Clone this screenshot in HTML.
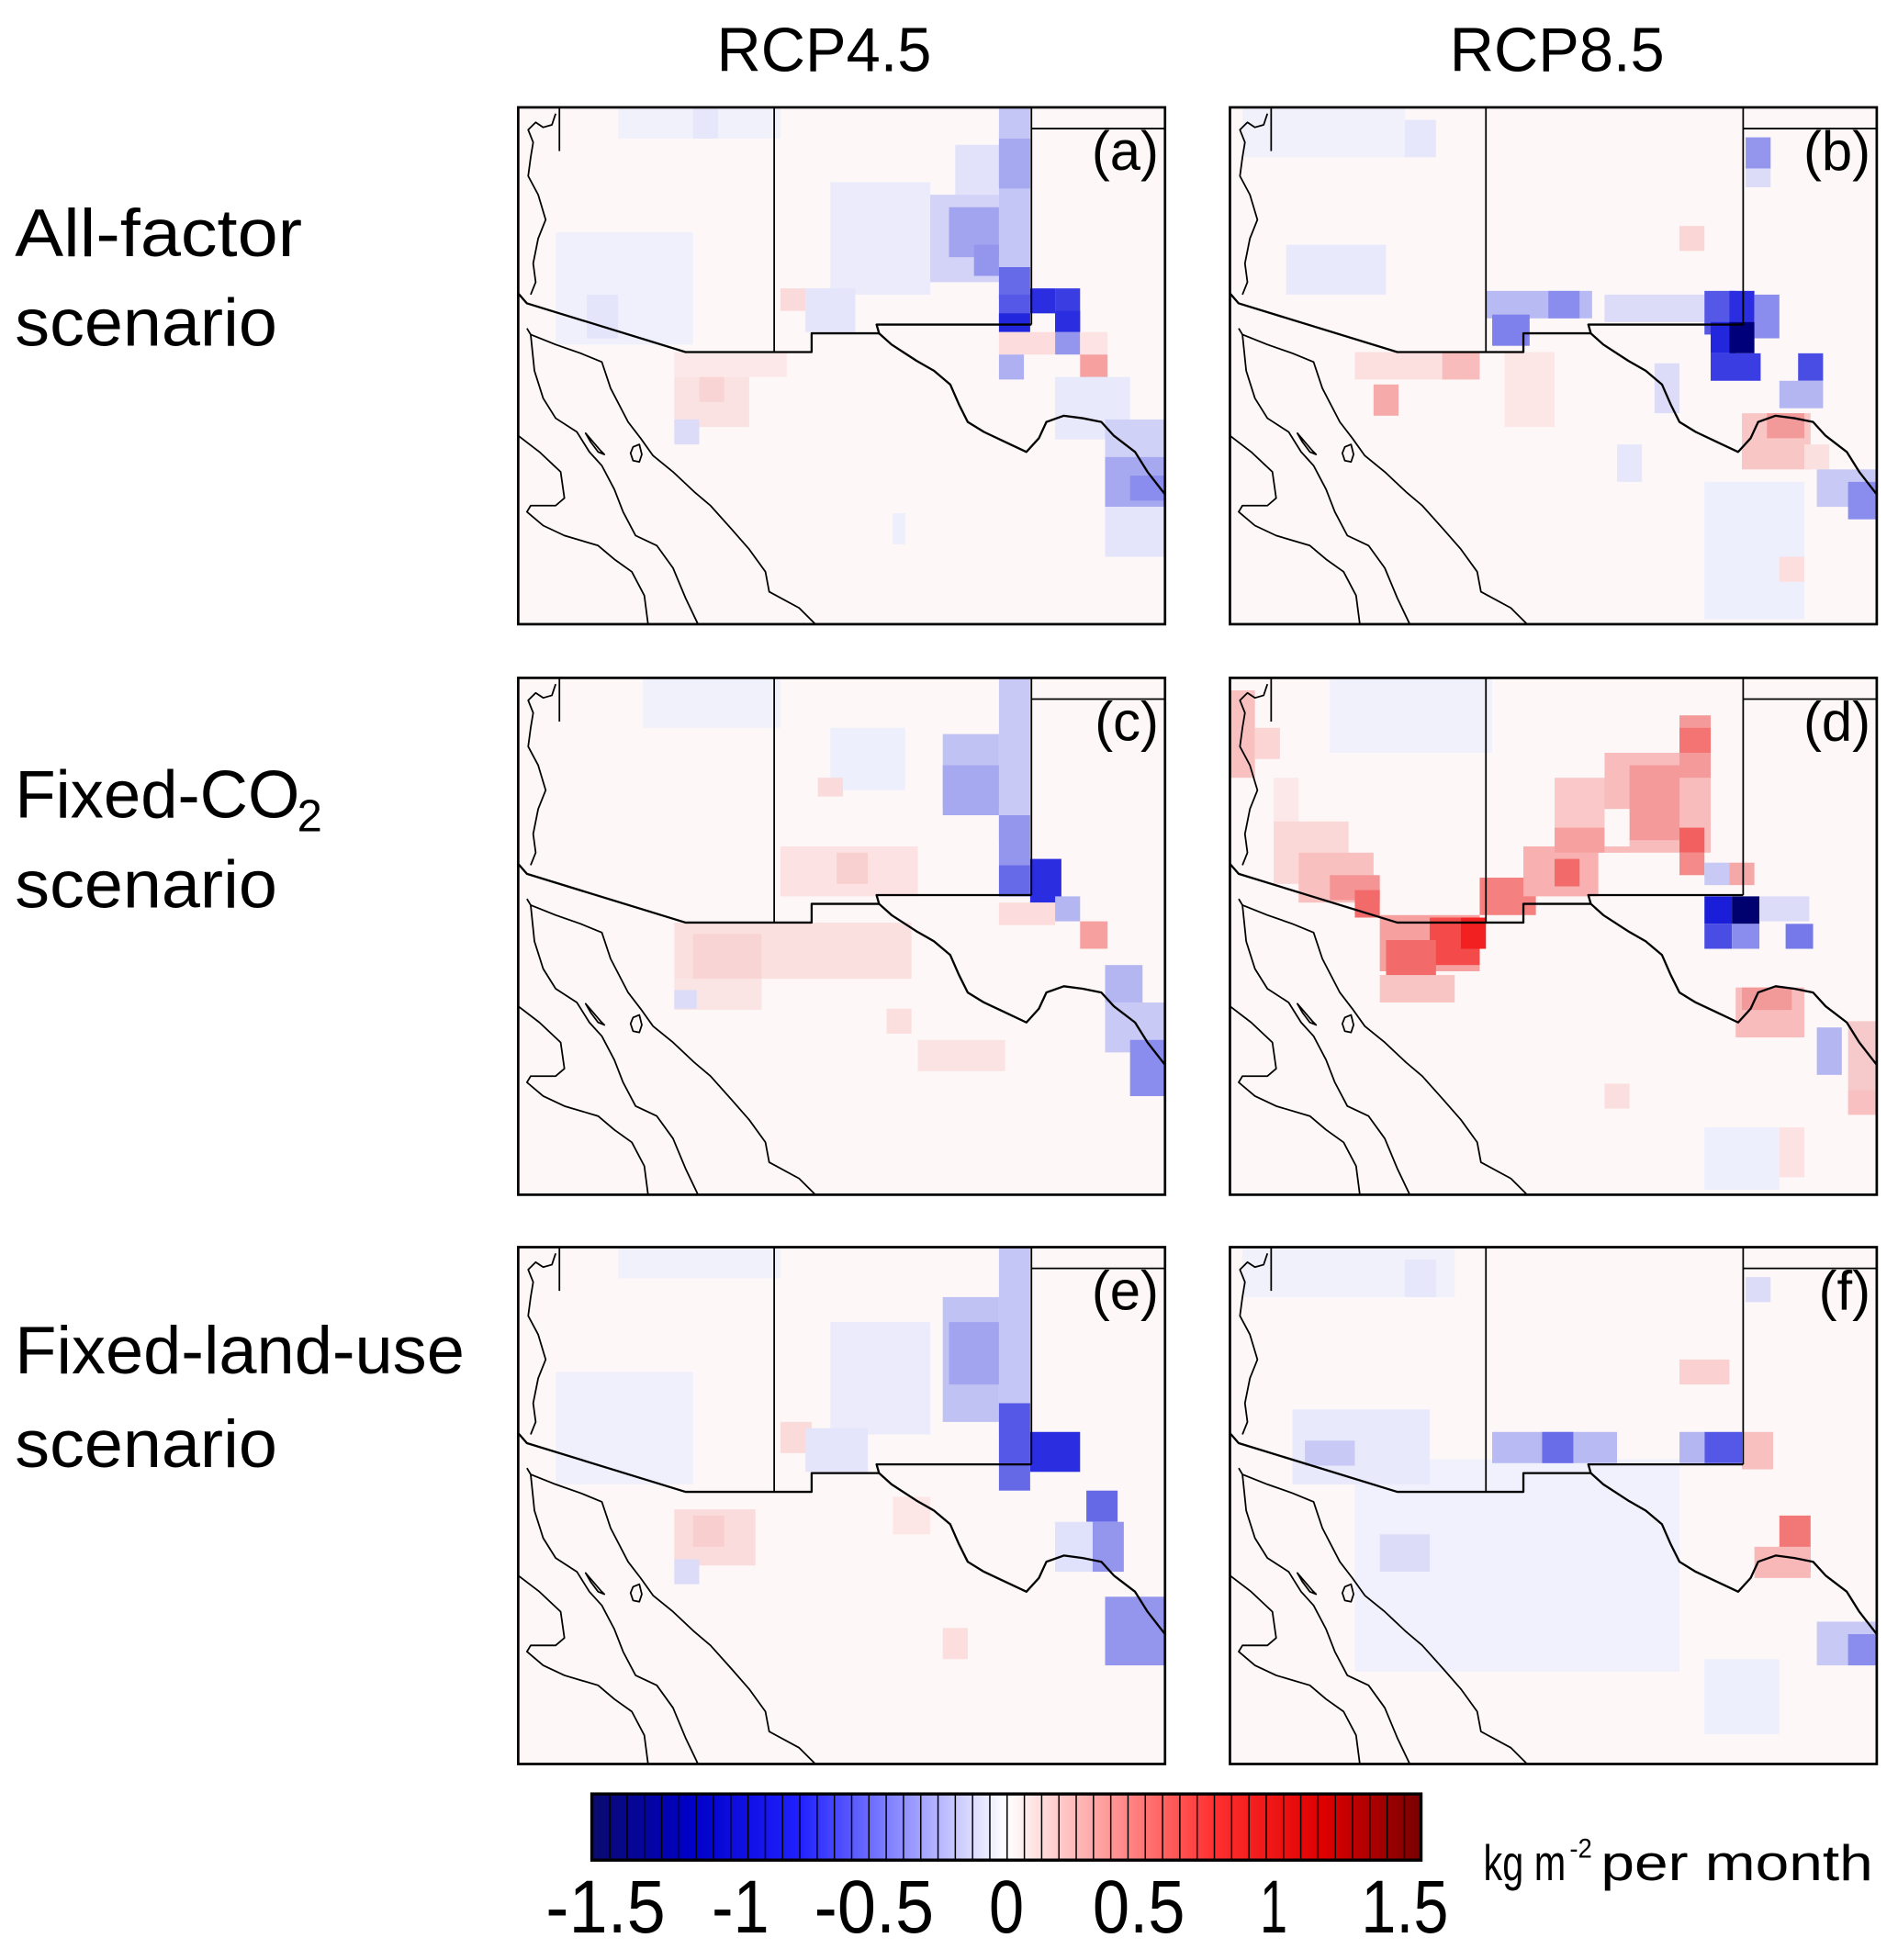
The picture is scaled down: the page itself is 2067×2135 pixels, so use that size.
<!DOCTYPE html>
<html><head><meta charset="utf-8"><style>
html,body{margin:0;padding:0;background:#fff;}
svg{display:block;}
text{font-family:"Liberation Sans","DejaVu Sans",sans-serif;fill:#000;}
</style></head><body>
<svg width="2067" height="2135" viewBox="0 0 1520 1570" preserveAspectRatio="none" xmlns="http://www.w3.org/2000/svg">
<defs>
<g id="map" fill="none" stroke="#000" stroke-width="1.3" stroke-linejoin="round">
  <path d="M33,0 L33,35"/>
  <path d="M205,0 L205,196"/>
  <path d="M411,0 L411,174"/>
  <path d="M411,17 L518,17"/>
  <path d="M0,149 L7,157 L134,196 L235,196 L235,181 L289,181 L287,174 L411,174" stroke-width="1.7"/>
  <path d="M289,181 L299,190 L319,203 L333,211 L346,222 L353,238 L360,252 L373,260 L390,268 L407,276 L417,265 L423,252 L437,247 L452,249 L467,252 L477,263 L494,276 L504,292 L518,310" stroke-width="1.7"/>
  <path d="M30,5 L27,14 L20,16 L14,12 L8,18 L12,28 L10,40 L8,55 L16,70 L22,90 L16,105 L12,125 L14,140 L10,150"/>
  <path d="M7,177 L10,182 L30,190 L50,197 L67,204 L74,225 L88,252 L98,265 L108,279 L124,292 L141,308 L154,319 L171,338 L185,354 L198,372 L201,388 L225,401 L238,414"/>
  <path d="M10,182 L13,211 L20,233 L30,249 L47,260 L57,276 L67,287 L77,306 L84,324 L94,343 L111,351 L124,369 L134,393 L144,414"/>
  <path d="M0,263 L17,276 L34,292 L37,313 L30,319 L10,319 L7,324 L20,335 L37,343 L64,351 L77,362 L91,372 L101,391 L104,414"/>
  <path d="M54,261 L60,268 L66,275 L69,278 L64,276 L58,268 Z"/>
  <path d="M92,272 L97,270 L99,278 L97,284 L92,283 L90,277 Z"/>
</g>
<linearGradient id="cb" x1="0" x2="1" y1="0" y2="0">
  <stop offset="0" stop-color="#0a0a6e"/>
  <stop offset="0.12" stop-color="#0000c8"/>
  <stop offset="0.25" stop-color="#2020ff"/>
  <stop offset="0.5" stop-color="#ffffff"/>
  <stop offset="0.75" stop-color="#ff3030"/>
  <stop offset="0.88" stop-color="#e00000"/>
  <stop offset="1" stop-color="#7a0000"/>
</linearGradient>
<pattern id="stripes" x="474" y="0" width="13.833" height="10" patternUnits="userSpaceOnUse">
  <rect x="0" y="0" width="1.1" height="10" fill="#000"/>
</pattern>
</defs>

<text x="660" y="57" font-size="50" text-anchor="middle" textLength="172" lengthAdjust="spacingAndGlyphs">RCP4.5</text>
<text x="1247" y="57" font-size="50" text-anchor="middle" textLength="172" lengthAdjust="spacingAndGlyphs">RCP8.5</text>

<text x="12" y="205" font-size="54" textLength="230" lengthAdjust="spacingAndGlyphs">All-factor</text>
<text x="12" y="277" font-size="54" textLength="210" lengthAdjust="spacingAndGlyphs">scenario</text>
<text x="12" y="655" font-size="54" textLength="228" lengthAdjust="spacingAndGlyphs">Fixed-CO</text>
<text x="238" y="666" font-size="36">2</text>
<text x="12" y="727" font-size="54" textLength="210" lengthAdjust="spacingAndGlyphs">scenario</text>
<text x="12" y="1100" font-size="54" textLength="360" lengthAdjust="spacingAndGlyphs">Fixed-land-use</text>
<text x="12" y="1175" font-size="54" textLength="210" lengthAdjust="spacingAndGlyphs">scenario</text>

<g transform="translate(415,86)">
  <rect x="0" y="0" width="518" height="414" fill="#fdf8f7"/>
  <rect x="80" y="0" width="130" height="25" fill="#f1f1fc"/>
  <rect x="140" y="0" width="20" height="25" fill="#e6e7fa"/>
  <rect x="30" y="100" width="110" height="90" fill="#f0f0fc"/>
  <rect x="55" y="150" width="25" height="35" fill="#e4e5fa"/>
  <rect x="350" y="30" width="60" height="70" fill="#e2e3fa"/>
  <rect x="385" y="0" width="25" height="150" fill="#c4c6f5"/>
  <rect x="385" y="25" width="25" height="40" fill="#a6a8f0"/>
  <rect x="320" y="70" width="65" height="70" fill="#d2d3f7"/>
  <rect x="345" y="80" width="40" height="40" fill="#a2a4f0"/>
  <rect x="365" y="110" width="20" height="25" fill="#9496ee"/>
  <rect x="250" y="60" width="80" height="90" fill="#ebebfb"/>
  <rect x="385" y="128" width="25" height="25" fill="#6669e8"/>
  <rect x="385" y="150" width="25" height="25" fill="#5558e6"/>
  <rect x="410" y="145" width="20" height="20" fill="#2a2de0"/>
  <rect x="430" y="145" width="20" height="35" fill="#3a3de2"/>
  <rect x="385" y="165" width="25" height="15" fill="#2226dc"/>
  <rect x="430" y="163" width="20" height="17" fill="#2a2ee0"/>
  <rect x="385" y="180" width="45" height="18" fill="#fcdcdc"/>
  <rect x="430" y="180" width="20" height="18" fill="#9496ee"/>
  <rect x="450" y="180" width="22" height="18" fill="#fde3e3"/>
  <rect x="450" y="198" width="22" height="18" fill="#f7a0a0"/>
  <rect x="385" y="198" width="20" height="20" fill="#aeb0f2"/>
  <rect x="450" y="216" width="22" height="35" fill="#b4b6f2"/>
  <rect x="430" y="216" width="60" height="50" fill="#e8e9fb"/>
  <rect x="470" y="250" width="48" height="30" fill="#d0d1f7"/>
  <rect x="470" y="280" width="48" height="40" fill="#a6a8f0"/>
  <rect x="490" y="295" width="28" height="20" fill="#8a8cee"/>
  <rect x="470" y="320" width="48" height="40" fill="#e4e5fb"/>
  <rect x="125" y="196" width="90" height="20" fill="#fce8e8"/>
  <rect x="125" y="216" width="60" height="40" fill="#fbe2e2"/>
  <rect x="145" y="216" width="20" height="20" fill="#f9d4d4"/>
  <rect x="125" y="250" width="20" height="20" fill="#dcdcf8"/>
  <rect x="210" y="145" width="20" height="18" fill="#fadada"/>
  <rect x="230" y="145" width="40" height="35" fill="#e4e5fa"/>
  <rect x="300" y="325" width="10" height="25" fill="#eeeffc"/>
  <use href="#map"/>
  <text x="513" y="50" font-size="44" text-anchor="end">(a)</text>
  <rect x="0" y="0" width="518" height="414" fill="none" stroke="#000" stroke-width="2"/>
</g>

<g transform="translate(985,86)">
  <rect x="0" y="0" width="518" height="414" fill="#fdf8f7"/>
  <rect x="10" y="0" width="130" height="40" fill="#f1f1fc"/>
  <rect x="140" y="10" width="25" height="30" fill="#e6e7fa"/>
  <rect x="45" y="110" width="80" height="40" fill="#e8e9fb"/>
  <rect x="413" y="24" width="20" height="25" fill="#9496ee"/>
  <rect x="413" y="49" width="20" height="15" fill="#dcdcf8"/>
  <rect x="360" y="95" width="20" height="20" fill="#fbd6d6"/>
  <rect x="205" y="147" width="85" height="22" fill="#b8baf3"/>
  <rect x="255" y="147" width="25" height="22" fill="#8a8cee"/>
  <rect x="210" y="166" width="30" height="25" fill="#7e81eb"/>
  <rect x="300" y="150" width="80" height="22" fill="#dcdcf8"/>
  <rect x="380" y="147" width="25" height="35" fill="#5558e6"/>
  <rect x="400" y="147" width="20" height="30" fill="#2a2de0"/>
  <rect x="420" y="150" width="20" height="35" fill="#8a8cee"/>
  <rect x="385" y="172" width="20" height="25" fill="#2226dc"/>
  <rect x="400" y="172" width="20" height="25" fill="#00007a"/>
  <rect x="385" y="197" width="40" height="22" fill="#3a3de2"/>
  <rect x="455" y="197" width="20" height="22" fill="#4a4de4"/>
  <rect x="440" y="219" width="35" height="22" fill="#b4b6f2"/>
  <rect x="100" y="196" width="90" height="22" fill="#fce0e0"/>
  <rect x="170" y="196" width="30" height="22" fill="#f8bcbc"/>
  <rect x="115" y="222" width="20" height="25" fill="#f6aaaa"/>
  <rect x="220" y="196" width="40" height="60" fill="#fde6e6"/>
  <rect x="340" y="205" width="20" height="40" fill="#dcdcf8"/>
  <rect x="410" y="245" width="55" height="45" fill="#f9c6c6"/>
  <rect x="430" y="245" width="30" height="20" fill="#f29a9a"/>
  <rect x="460" y="270" width="20" height="20" fill="#fbe0e0"/>
  <rect x="470" y="290" width="48" height="30" fill="#c8c9f5"/>
  <rect x="495" y="300" width="23" height="30" fill="#8a8cee"/>
  <rect x="380" y="300" width="80" height="110" fill="#eeeffc"/>
  <rect x="440" y="360" width="20" height="20" fill="#fcdede"/>
  <rect x="310" y="270" width="20" height="30" fill="#e6e7fa"/>
  <use href="#map"/>
  <text x="513" y="50" font-size="44" text-anchor="end">(b)</text>
  <rect x="0" y="0" width="518" height="414" fill="none" stroke="#000" stroke-width="2"/>
</g>

<g transform="translate(415,543)">
  <rect x="0" y="0" width="518" height="414" fill="#fdf8f7"/>
  <rect x="100" y="0" width="110" height="40" fill="#f1f1fc"/>
  <rect x="250" y="40" width="60" height="50" fill="#eeeffc"/>
  <rect x="385" y="0" width="25" height="130" fill="#c8c9f5"/>
  <rect x="340" y="45" width="45" height="60" fill="#c0c2f4"/>
  <rect x="340" y="70" width="45" height="40" fill="#a6a8f0"/>
  <rect x="385" y="110" width="25" height="40" fill="#9496ee"/>
  <rect x="410" y="145" width="25" height="35" fill="#2a2de0"/>
  <rect x="385" y="150" width="25" height="25" fill="#6669e8"/>
  <rect x="240" y="80" width="20" height="15" fill="#fadada"/>
  <rect x="210" y="135" width="110" height="40" fill="#fce2e2"/>
  <rect x="255" y="140" width="25" height="25" fill="#f9d0d0"/>
  <rect x="125" y="196" width="190" height="45" fill="#fbe0e0"/>
  <rect x="140" y="205" width="55" height="40" fill="#f9d4d4"/>
  <rect x="125" y="241" width="70" height="25" fill="#fbe4e4"/>
  <rect x="125" y="250" width="18" height="15" fill="#dcdcf8"/>
  <rect x="385" y="180" width="45" height="18" fill="#fcdcdc"/>
  <rect x="450" y="195" width="22" height="22" fill="#f7a0a0"/>
  <rect x="430" y="175" width="20" height="20" fill="#b4b6f2"/>
  <rect x="470" y="230" width="30" height="30" fill="#b4b6f2"/>
  <rect x="470" y="260" width="48" height="40" fill="#c8c9f5"/>
  <rect x="490" y="290" width="28" height="45" fill="#8a8cee"/>
  <rect x="320" y="290" width="70" height="25" fill="#fbe3e3"/>
  <rect x="295" y="265" width="20" height="20" fill="#fbdede"/>
  <use href="#map"/>
  <text x="513" y="50" font-size="44" text-anchor="end">(c)</text>
  <rect x="0" y="0" width="518" height="414" fill="none" stroke="#000" stroke-width="2"/>
</g>

<g transform="translate(985,543)">
  <rect x="0" y="0" width="518" height="414" fill="#fdf8f7"/>
  <rect x="0" y="10" width="20" height="70" fill="#f9c0c0"/>
  <rect x="20" y="40" width="20" height="25" fill="#fbd4d4"/>
  <rect x="80" y="0" width="130" height="60" fill="#f1f1fc"/>
  <rect x="35" y="80" width="20" height="60" fill="#fce8e8"/>
  <rect x="35" y="115" width="60" height="50" fill="#fbd8d8"/>
  <rect x="55" y="140" width="60" height="40" fill="#f9c0c0"/>
  <rect x="80" y="158" width="40" height="20" fill="#f59494"/>
  <rect x="100" y="170" width="20" height="22" fill="#f26a6a"/>
  <rect x="120" y="190" width="80" height="45" fill="#f6a0a0"/>
  <rect x="160" y="192" width="40" height="38" fill="#f54a4a"/>
  <rect x="185" y="192" width="20" height="25" fill="#f22020"/>
  <rect x="125" y="210" width="40" height="45" fill="#f26a6a"/>
  <rect x="120" y="238" width="60" height="22" fill="#f8c4c4"/>
  <rect x="200" y="160" width="45" height="30" fill="#f48080"/>
  <rect x="235" y="135" width="60" height="40" fill="#f8b0b0"/>
  <rect x="260" y="145" width="20" height="22" fill="#f26a6a"/>
  <rect x="260" y="80" width="60" height="60" fill="#fac8c8"/>
  <rect x="260" y="120" width="40" height="20" fill="#f6a0a0"/>
  <rect x="300" y="60" width="85" height="80" fill="#f8bcbc"/>
  <rect x="320" y="70" width="40" height="60" fill="#f59a9a"/>
  <rect x="360" y="30" width="25" height="50" fill="#f59a9a"/>
  <rect x="360" y="40" width="25" height="20" fill="#f47474"/>
  <rect x="300" y="105" width="20" height="30" fill="#fdf8f7"/>
  <rect x="360" y="120" width="20" height="20" fill="#f26060"/>
  <rect x="360" y="140" width="20" height="18" fill="#f48a8a"/>
  <rect x="380" y="148" width="20" height="18" fill="#c8c9f5"/>
  <rect x="400" y="148" width="20" height="18" fill="#f4a8a8"/>
  <rect x="380" y="175" width="22" height="22" fill="#1a1ed8"/>
  <rect x="402" y="175" width="22" height="22" fill="#00006e"/>
  <rect x="380" y="197" width="22" height="20" fill="#4a4de4"/>
  <rect x="402" y="197" width="22" height="20" fill="#8a8cee"/>
  <rect x="445" y="197" width="22" height="20" fill="#7679ea"/>
  <rect x="424" y="175" width="40" height="20" fill="#dcdcf8"/>
  <rect x="405" y="248" width="55" height="40" fill="#f8bcbc"/>
  <rect x="410" y="248" width="40" height="18" fill="#f29a9a"/>
  <rect x="470" y="280" width="20" height="38" fill="#b4b6f2"/>
  <rect x="495" y="275" width="23" height="55" fill="#f6caca"/>
  <rect x="495" y="330" width="23" height="20" fill="#f8c0c0"/>
  <rect x="300" y="325" width="20" height="20" fill="#fbdede"/>
  <rect x="380" y="360" width="60" height="50" fill="#eeeffc"/>
  <rect x="440" y="360" width="20" height="40" fill="#fce2e2"/>
  <use href="#map"/>
  <text x="513" y="50" font-size="44" text-anchor="end">(d)</text>
  <rect x="0" y="0" width="518" height="414" fill="none" stroke="#000" stroke-width="2"/>
</g>

<g transform="translate(415,999)">
  <rect x="0" y="0" width="518" height="414" fill="#fdf8f7"/>
  <rect x="80" y="0" width="130" height="25" fill="#f1f1fc"/>
  <rect x="30" y="100" width="110" height="90" fill="#f0f0fc"/>
  <rect x="250" y="60" width="80" height="90" fill="#ebebfb"/>
  <rect x="385" y="0" width="25" height="150" fill="#c4c6f5"/>
  <rect x="340" y="40" width="45" height="100" fill="#c0c2f4"/>
  <rect x="345" y="60" width="40" height="50" fill="#a2a4f0"/>
  <rect x="385" y="125" width="25" height="50" fill="#5558e6"/>
  <rect x="410" y="148" width="40" height="32" fill="#2a2de0"/>
  <rect x="385" y="175" width="25" height="20" fill="#6669e6"/>
  <rect x="455" y="195" width="25" height="25" fill="#6669e6"/>
  <rect x="460" y="220" width="25" height="40" fill="#9496ee"/>
  <rect x="470" y="280" width="48" height="55" fill="#9496ee"/>
  <rect x="430" y="220" width="30" height="40" fill="#e0e1fa"/>
  <rect x="125" y="210" width="65" height="45" fill="#fbdcdc"/>
  <rect x="140" y="215" width="25" height="25" fill="#f9cece"/>
  <rect x="125" y="250" width="20" height="20" fill="#dcdcf8"/>
  <rect x="210" y="140" width="25" height="25" fill="#fbdada"/>
  <rect x="230" y="145" width="50" height="35" fill="#e4e5fa"/>
  <rect x="300" y="200" width="30" height="30" fill="#fce6e6"/>
  <rect x="340" y="305" width="20" height="25" fill="#fcdede"/>
  <use href="#map"/>
  <text x="513" y="50" font-size="44" text-anchor="end">(e)</text>
  <rect x="0" y="0" width="518" height="414" fill="none" stroke="#000" stroke-width="2"/>
</g>

<g transform="translate(985,999)">
  <rect x="0" y="0" width="518" height="414" fill="#fdf8f7"/>
  <rect x="10" y="0" width="170" height="40" fill="#f1f1fc"/>
  <rect x="140" y="10" width="25" height="30" fill="#e6e7fa"/>
  <rect x="100" y="170" width="260" height="170" fill="#f0f1fd"/>
  <rect x="50" y="130" width="110" height="60" fill="#e8e9fb"/>
  <rect x="60" y="155" width="40" height="20" fill="#c8c9f5"/>
  <rect x="210" y="148" width="100" height="25" fill="#b8baf3"/>
  <rect x="250" y="148" width="25" height="25" fill="#6a6de8"/>
  <rect x="380" y="148" width="30" height="25" fill="#5558e6"/>
  <rect x="360" y="148" width="20" height="25" fill="#b4b6f2"/>
  <rect x="410" y="148" width="25" height="30" fill="#f9c0c0"/>
  <rect x="360" y="90" width="40" height="20" fill="#fad0d0"/>
  <rect x="413" y="24" width="20" height="20" fill="#dcdcf8"/>
  <rect x="440" y="215" width="25" height="45" fill="#f27878"/>
  <rect x="420" y="240" width="45" height="25" fill="#f8b8b8"/>
  <rect x="120" y="230" width="40" height="30" fill="#dcdcf8"/>
  <rect x="470" y="300" width="48" height="35" fill="#c8c9f5"/>
  <rect x="495" y="310" width="23" height="25" fill="#8a8cee"/>
  <rect x="380" y="330" width="60" height="60" fill="#eeeffc"/>
  <use href="#map"/>
  <text x="513" y="50" font-size="44" text-anchor="end">(f)</text>
  <rect x="0" y="0" width="518" height="414" fill="none" stroke="#000" stroke-width="2"/>
</g>

<rect x="474" y="1437" width="664" height="53" fill="url(#cb)"/>
<rect x="474" y="1437" width="664" height="53" fill="url(#stripes)"/>
<rect x="474" y="1437" width="664" height="53" fill="none" stroke="#000" stroke-width="2.5"/>

<g font-size="60">
<text x="485" y="1548" text-anchor="middle" textLength="96" lengthAdjust="spacingAndGlyphs">-1.5</text>
<text x="593" y="1548" text-anchor="middle" textLength="46" lengthAdjust="spacingAndGlyphs">-1</text>
<text x="700" y="1548" text-anchor="middle" textLength="96" lengthAdjust="spacingAndGlyphs">-0.5</text>
<text x="806" y="1548" text-anchor="middle" textLength="28" lengthAdjust="spacingAndGlyphs">0</text>
<text x="912" y="1548" text-anchor="middle" textLength="74" lengthAdjust="spacingAndGlyphs">0.5</text>
<text x="1020" y="1548" text-anchor="middle" textLength="22" lengthAdjust="spacingAndGlyphs">1</text>
<text x="1125" y="1548" text-anchor="middle" textLength="70" lengthAdjust="spacingAndGlyphs">1.5</text>
</g>
<text x="1188" y="1506" font-size="40" textLength="66" lengthAdjust="spacingAndGlyphs">kg m</text>
<text x="1257" y="1488" font-size="22" textLength="18" lengthAdjust="spacingAndGlyphs">-2</text>
<text x="1282" y="1506" font-size="40" textLength="218" lengthAdjust="spacingAndGlyphs">per month</text>
</svg>
</body></html>
